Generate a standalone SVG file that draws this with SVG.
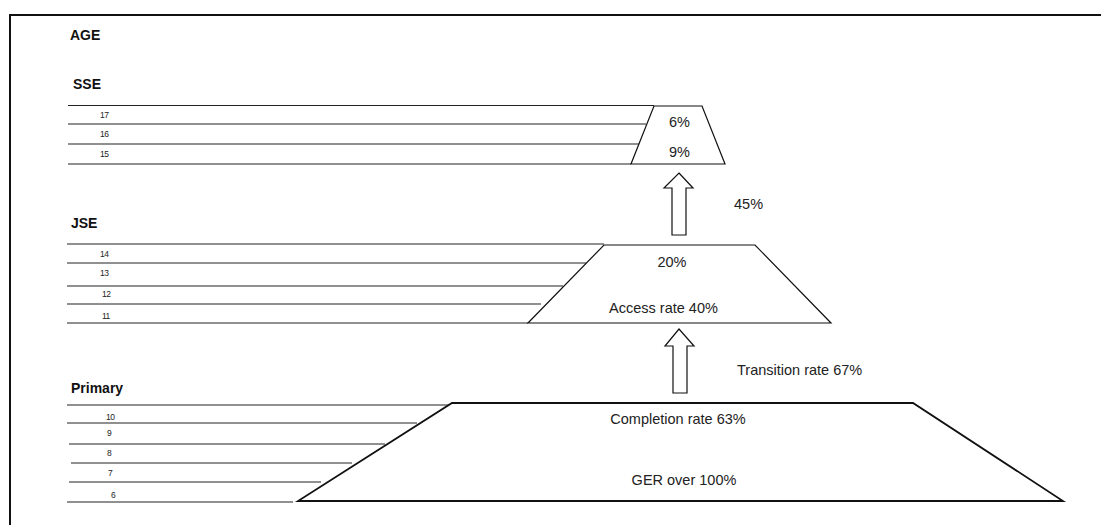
<svg xmlns="http://www.w3.org/2000/svg" width="1101" height="525" viewBox="0 0 1101 525">
<style>
.t{font-family:"Liberation Sans",Arial,sans-serif;font-size:14.5px;fill:#222}
.h{font-family:"Liberation Sans",Arial,sans-serif;font-size:14px;font-weight:bold;fill:#111}
.n{font-family:"Liberation Sans",Arial,sans-serif;font-size:8.5px;fill:#222;letter-spacing:-0.5px}
.l{stroke:#222;stroke-width:1.2;fill:none}
.tz{fill:#fff;stroke:#111;stroke-width:1.2}
.tzb{fill:#fff;stroke:#111;stroke-width:1.8}
.ar{fill:#fff;stroke:#111;stroke-width:1.2}
</style>
<rect width="1101" height="525" fill="#fff"/>
<path d="M10 525 V15 H1101" fill="none" stroke="#111" stroke-width="2"/>
<text class="h" x="70" y="40" font-size="13">AGE</text>
<g id="sse">
<text class="h" x="73" y="89">SSE</text>
<path class="l" d="M68 105.5 H654 M68 124 H646 M68 144 H639 M68 164 H631"/>
<text class="n" x="100" y="118">17</text>
<text class="n" x="100" y="137">16</text>
<text class="n" x="100" y="157">15</text>
<polygon class="tz" points="654,106 702,106 725,164 631,164"/>
<text class="t" x="679.5" y="127" text-anchor="middle">6%</text>
<text class="t" x="679.5" y="157" text-anchor="middle">9%</text>
</g>
<g id="jse">
<text class="h" x="71" y="228">JSE</text>
<path class="l" d="M67 244 H604 M67 263 H586 M67 286 H563 M67 304 H541 M67 323 H528"/>
<text class="n" x="100" y="257">14</text>
<text class="n" x="100" y="276">13</text>
<text class="n" x="102" y="297">12</text>
<text class="n" x="102" y="319">11</text>
<polygon class="tz" points="604,245 755,245 831,323 528,323"/>
<text class="t" x="672" y="267" text-anchor="middle">20%</text>
<text class="t" x="663.5" y="313" text-anchor="middle">Access rate 40%</text>
</g>
<g id="primary">
<text class="h" x="71" y="393">Primary</text>
<path class="l" d="M67 405 H450 M67 423 H417 M69 444 H385 M71 463 H352 M69 482 H321 M67 502 H293"/>
<text class="n" x="106" y="420">10</text>
<text class="n" x="107" y="436">9</text>
<text class="n" x="107" y="456">8</text>
<text class="n" x="108" y="476">7</text>
<text class="n" x="111" y="498">6</text>
<polygon class="tzb" points="452,403 913,403 1063,501 298,501"/>
<text class="t" x="678" y="424" text-anchor="middle">Completion rate 63%</text>
<text class="t" x="684" y="485" text-anchor="middle">GER over 100%</text>
</g>
<g id="connectors">
<polygon class="ar" points="679,173 693,188 686,188 686,235 672,235 672,188 664,188"/>
<text class="t" x="734" y="209">45%</text>
<polygon class="ar" points="679,329 694,346 687,346 687,393 673,393 673,346 665,346"/>
<text class="t" x="737" y="375">Transition rate 67%</text>
</g>
</svg>
